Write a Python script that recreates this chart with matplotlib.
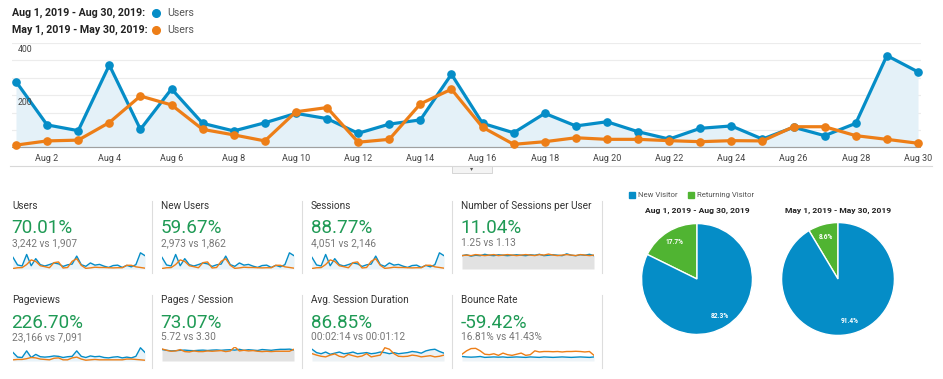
import numpy as np
import matplotlib
matplotlib.use("Agg")
import matplotlib.pyplot as plt
from matplotlib.patches import Rectangle

plt.rcParams['font.family'] = ['Roboto', 'DejaVu Sans']

W, H = 943, 379

# ---------------- data ----------------
days = [f"Aug {d}" for d in range(1, 31)]
users_aug = [253, 88, 66, 316, 71, 225, 94, 65, 96, 132, 112, 56, 91, 107, 281,
             94, 58, 132, 84, 100, 62, 34, 75, 84, 34, 79, 47, 94, 352, 290]
users_may = [11, 27, 30, 97, 198, 164, 71, 50, 27, 138, 154, 22, 33, 168, 224,
             79, 14, 24, 39, 33, 33, 28, 24, 28, 27, 81, 81, 47, 33, 18]
y_tick_labels = ["400", "200"]
y_tick_values = [400, 200]

pageviews_aug = [1100, 500, 450, 1300, 450, 850, 550, 500, 550, 650, 600, 450, 550, 600, 1300,
                 600, 450, 650, 550, 600, 450, 400, 500, 550, 400, 500, 400, 600, 1700, 1100]
pageviews_may = [150, 200, 200, 300, 450, 400, 250, 200, 150, 350, 400, 150, 150, 400, 500,
                 250, 100, 150, 200, 150, 150, 150, 150, 150, 150, 250, 250, 200, 150, 100]
spu_aug = [1.24, 1.26, 1.23, 1.25, 1.24, 1.27, 1.25, 1.24, 1.26, 1.25, 1.24, 1.25, 1.26, 1.25, 1.24,
           1.26, 1.25, 1.27, 1.24, 1.25, 1.26, 1.25, 1.24, 1.28, 1.25, 1.24, 1.26, 1.25, 1.27, 1.24]
spu_may = [1.12, 1.13, 1.12, 1.14, 1.13, 1.12, 1.13, 1.14, 1.12, 1.13, 1.14, 1.13, 1.12, 1.13, 1.14,
           1.13, 1.12, 1.14, 1.13, 1.15, 1.13, 1.12, 1.13, 1.14, 1.13, 1.12, 1.14, 1.13, 1.12, 1.13]
pps_aug = [5.9, 5.5, 5.2, 5.3, 5.5, 5.6, 5.4, 5.3, 5.5, 5.6, 5.4, 5.6, 5.7, 5.5, 5.7,
           5.8, 5.6, 6.0, 5.5, 5.8, 5.6, 5.4, 5.9, 5.7, 5.5, 5.8, 6.0, 6.0, 6.1, 5.7]
pps_may = [3.6, 3.2, 2.9, 3.0, 3.4, 2.8, 2.7, 3.0, 2.8, 2.8, 3.0, 2.9, 3.0, 3.1, 2.8,
           3.0, 4.2, 3.0, 3.2, 3.0, 3.1, 2.9, 2.8, 2.9, 2.8, 2.9, 2.9, 2.9, 2.9, 3.5]
dur_aug = [165, 135, 125, 140, 120, 130, 140, 125, 130, 140, 125, 130, 135, 125, 130,
           140, 135, 125, 135, 125, 130, 135, 145, 140, 130, 150, 160, 165, 145, 130]
dur_may = [80, 70, 62, 58, 70, 78, 62, 56, 75, 66, 58, 64, 80, 58, 64,
           70, 120, 110, 80, 62, 60, 62, 70, 66, 58, 62, 66, 58, 62, 70]
bounce_aug = [20, 18, 17, 18, 20, 16, 17, 18, 17, 18, 16, 17, 18, 17, 16,
              18, 17, 16, 18, 17, 16, 17, 18, 17, 16, 17, 18, 17, 16, 18]
bounce_may = [30, 45, 55, 56, 45, 30, 28, 32, 25, 35, 28, 25, 30, 35, 25,
              28, 45, 40, 42, 42, 41, 42, 40, 42, 42, 43, 42, 40, 42, 25]

metric_titles = ["Users", "New Users", "Sessions", "Number of Sessions per User",
                 "Pageviews", "Pages / Session", "Avg. Session Duration", "Bounce Rate"]
metric_changes = ["70.01%", "59.67%", "88.77%", "11.04%",
                  "226.70%", "73.07%", "86.85%", "-59.42%"]
metric_compare = ["3,242 vs 1,907", "2,973 vs 1,862", "4,051 vs 2,146", "1.25 vs 1.13",
                  "23,166 vs 7,091", "5.72 vs 3.30", "00:02:14 vs 00:01:12", "16.81% vs 41.43%"]

pie_labels = ["Returning Visitor", "New Visitor"]
pie_aug = [17.7, 82.3]
pie_may = [8.6, 91.4]
pie_titles = ["Aug 1, 2019 - Aug 30, 2019", "May 1, 2019 - May 30, 2019"]

BLUE = "#058dc7"
ORANGE = "#ed7e17"
GREEN_PIE = "#50b432"
GREEN_TXT = "#1f9a55"

fig = plt.figure(figsize=(W / 100, H / 100), dpi=100)
fig.patch.set_facecolor("white")


def box(x0, y0, x1, y1):
    return [x0 / W, 1 - y1 / H, (x1 - x0) / W, (y1 - y0) / H]


# overlay axes in pixel coordinates (drawn on top)
ov = fig.add_axes([0, 0, 1, 1])
ov.set_xlim(0, W)
ov.set_ylim(H, 0)
ov.axis("off")
ov.set_zorder(10)

# header legend
ov.text(12, 13, "Aug 1, 2019 - Aug 30, 2019:", fontsize=7.7, fontweight="bold",
        color="#222", va="center", ha="left")
ov.text(12, 30, "May 1, 2019 - May 30, 2019:", fontsize=7.7, fontweight="bold",
        color="#222", va="center", ha="left")
ov.plot([156], [13], "o", color=BLUE, ms=5.5)
ov.plot([156], [30], "o", color=ORANGE, ms=5.5)
ov.text(167, 13, "Users", fontsize=7.7, color="#555", va="center")
ov.text(167, 30, "Users", fontsize=7.7, color="#555", va="center")

# main chart
day_px0, day_px1 = 16, 918
scale = (day_px1 - day_px0) / 29
ax = fig.add_axes(box(12, 43, 921, 148))
ax.set_facecolor("none")
x = np.arange(30)
ax.set_xlim(-(day_px0 - 12) / scale, 29 + (921 - day_px1) / scale)
ax.set_ylim(0, 400)
for v in np.linspace(0, 400, 7)[1:]:
    ax.axhline(v, color="#ececec", lw=0.8, zorder=0)
ax.fill_between(x, users_aug, 0, color="#e4f1f8", zorder=1, lw=0)
ax.plot(x, users_aug, color=BLUE, lw=2.3, marker="o", ms=5.2, zorder=3, clip_on=False)
ax.plot(x, users_may, color=ORANGE, lw=2.3, marker="o", ms=5.2, zorder=4, clip_on=False)
ax.axhline(0, color="#a0a0a0", lw=1.6, zorder=2)
for s in ax.spines.values():
    s.set_visible(False)
ax.set_yticks([])
ax.set_xticks(x[1::2])
ax.set_xticklabels(days[1::2], fontsize=6.5, color="#444")
ax.tick_params(axis="x", length=0, pad=4)
for lab, v in zip(y_tick_labels, y_tick_values):
    ov.text(18, 148 - v / 400 * 105 + 7, lab, fontsize=6.3, color="#444", va="center", ha="left")

# separator under chart + tab
ov.plot([10, 932], [166, 166], color="#d8d8d8", lw=0.8)
ov.add_patch(Rectangle((452, 166), 40, 6.5, facecolor="#f4f4f4", edgecolor="#d0d0d0", lw=0.6))
ov.text(472, 168.5, "\u25BE", fontsize=4.5, color="#555", ha="center", va="center",
        family=["DejaVu Sans"])

# metric tiles
col_x = [12, 161, 311, 461]
row_y = [(206, 228, 243, 252, 269), (300, 323, 337, 347, 361)]
for i in range(8):
    r, c = divmod(i, 4)
    tx = col_x[c]
    ty, py, sy, sp0, sp1 = row_y[r]
    ov.text(tx, ty, metric_titles[i], fontsize=7.2, color="#333", va="center")
    ov.text(tx - 0.5, py, metric_changes[i], fontsize=13.6, color=GREEN_TXT, va="center")
    ov.text(tx, sy, metric_compare[i], fontsize=7.3, color="#777", va="center")

sep_x = [152, 302, 452, 602]
for sx in sep_x:
    ov.plot([sx, sx], [201, 273], color="#dddddd", lw=0.8)
    ov.plot([sx, sx], [295, 368], color="#dddddd", lw=0.8)


def spark(i, a, b, ylim_a, ylim_b=None, fill="#e8f3f9"):
    r, c = divmod(i, 4)
    tx = col_x[c]
    ty, py, sy, sp0, sp1 = row_y[r]
    s = fig.add_axes(box(tx + 1, sp0, tx + 133, sp1))
    s.set_facecolor("none")
    s.set_xlim(0, 29)
    s.set_ylim(*ylim_a)
    s.axis("off")
    s.fill_between(x, a, ylim_a[0], color=fill, lw=0, zorder=0)
    s.plot(x, a, color=BLUE, lw=1.0, zorder=2)
    if ylim_b is None:
        s.plot(x, b, color=ORANGE, lw=1.0, zorder=3)
    else:
        s2 = s.twinx()
        s2.set_facecolor("none")
        s2.set_ylim(*ylim_b)
        s2.axis("off")
        s2.plot(x, b, color=ORANGE, lw=1.0, zorder=3)


spark(0, users_aug, users_may, (0, 370))
spark(1, users_aug, users_may, (0, 370))
spark(2, users_aug, users_may, (0, 370))
spark(3, spu_aug, spu_may, (0.95, 1.32), (0.86, 1.19), fill="#e2e2e2")
spark(4, pageviews_aug, pageviews_may, (0, 1800))
spark(5, pps_aug, pps_may, (0, 7.2), (0, 4.17), fill="#e2e2e2")
spark(6, dur_aug, dur_may, (60, 185), (30, 125), fill="#edf2f5")
spark(7, bounce_aug, bounce_may, (0, 62), fill="#eef4f8")

# pie legend
ov.add_patch(Rectangle((629, 192), 6, 6, color=BLUE))
ov.text(638, 195, "New Visitor", fontsize=5.6, color="#555", va="center")
ov.add_patch(Rectangle((688, 192), 6, 6, color=GREEN_PIE))
ov.text(697, 195, "Returning Visitor", fontsize=5.6, color="#555", va="center")

# pies
for cx, vals, title, rad in [(697, pie_aug, pie_titles[0], 56), (838, pie_may, pie_titles[1], 57)]:
    ov.text(cx, 211, title, fontsize=6.1, fontweight="bold", color="#222", ha="center", va="center")
    pa = fig.add_axes(box(cx - rad, 279 - rad, cx + rad, 279 + rad))
    pa.set_facecolor("none")
    wedges, texts, autotexts = pa.pie(vals, colors=[GREEN_PIE, BLUE], startangle=90,
                                      autopct="%1.1f%%", pctdistance=0.78,
                                      wedgeprops=dict(edgecolor="white", linewidth=1.0),
                                      textprops=dict(color="white", fontsize=4.8, fontweight="bold"))
    pa.set_xlim(-1.01, 1.01)
    pa.set_ylim(-1.01, 1.01)
    pa.set_aspect("equal")
    pa.axis("off")

fig.savefig("out.png", dpi=100, facecolor="white")
